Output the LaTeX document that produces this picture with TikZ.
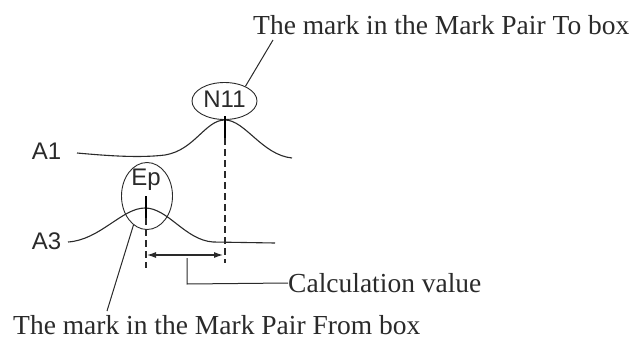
\documentclass[tikz,border=0pt]{standalone}
\usepackage{fontspec}
\setmainfont{Liberation Serif}
\setsansfont{Liberation Sans}
\usetikzlibrary{shapes.geometric,arrows.meta}
\definecolor{ink}{HTML}{2A2A2A}
\tikzset{
  serif/.style={font=\fontsize{27.5}{30}\selectfont, text=ink, inner sep=0pt},
  sans/.style={font=\sffamily\fontsize{24}{26}\selectfont, text=ink, inner sep=0pt},
  curve/.style={draw=ink, line width=1.1pt},
  ring/.style={ellipse, draw=ink, line width=0.9pt, inner sep=0pt},
  tick/.style={draw=black, line width=2.6pt},
  dashline/.style={draw=ink, line width=1.1pt, dash pattern=on 7pt off 4pt},
  lead/.style={draw=ink, line width=1pt},
}
\begin{document}
\begin{tikzpicture}[x=1pt,y=-1pt]
\useasboundingbox (0,0) rectangle (634,340);
% labels
\node[sans] (a1) at (46.5,151.5) {A1};
\node[sans] (a3) at (46.5,241.5) {A3};
\node[serif, anchor=west] (topt) at (253,25) {The mark in the Mark Pair To box};
\node[serif, anchor=west] (bott) at (13,325) {The mark in the Mark Pair From box};
\node[serif, anchor=west] (calc) at (288,283) {Calculation value};
% curves
\draw[curve] (77,153) .. controls (110,156) and (140,158) .. (165,155)
  .. controls (195,150) and (205,120) .. (225,120)
  .. controls (245,120) and (262,155) .. (292,158);
\draw[curve] (68,242) .. controls (100,240) and (122,208) .. (145,208)
  .. controls (168,208) and (185,240) .. (213,242) -- (275,243);
% ellipses
\node[ring, minimum width=65pt, minimum height=37pt] (n11) at (224.5,101) {};
\node[sans] (n11t) at (224.5,99) {N11};
\node[ring, minimum width=51pt, minimum height=67pt] (ep) at (147,196) {};
\node[sans] (ept) at (146,180) {Ep};
% coordinates
\coordinate (n11a) at (225,116);
\coordinate (n11b) at (225,138);
\coordinate (n11c) at (225,263);
\coordinate (epa) at (146,196);
\coordinate (epb) at (146,218);
\coordinate (epc) at (146,268);
\coordinate (arl) at (147,255);
\coordinate (arr) at (223,255);
\coordinate (brt) at (187,258);
\coordinate (brb) at (187,284);
\coordinate (topl) at (273,40);
\coordinate (botl) at (107,311);
% ticks and dashed lines
\draw[tick] (n11a) -- (n11b);
\draw[dashline] (n11b) -- (n11c);
\draw[tick] (epa) -- (epb);
\draw[dashline] (epb) -- (epc);
% arrow
\draw[ink, line width=1.1pt, {Latex[length=9pt,width=6pt]}-{Latex[length=9pt,width=6pt]}] (arl) -- (arr);
% bracket
\draw[lead] (brt) -- (brb) -- (calc.west);
% leaders
\draw[lead] (n11.35) -- (topl);
\draw[lead] (ep.245) -- (botl);
\end{tikzpicture}
\end{document}
